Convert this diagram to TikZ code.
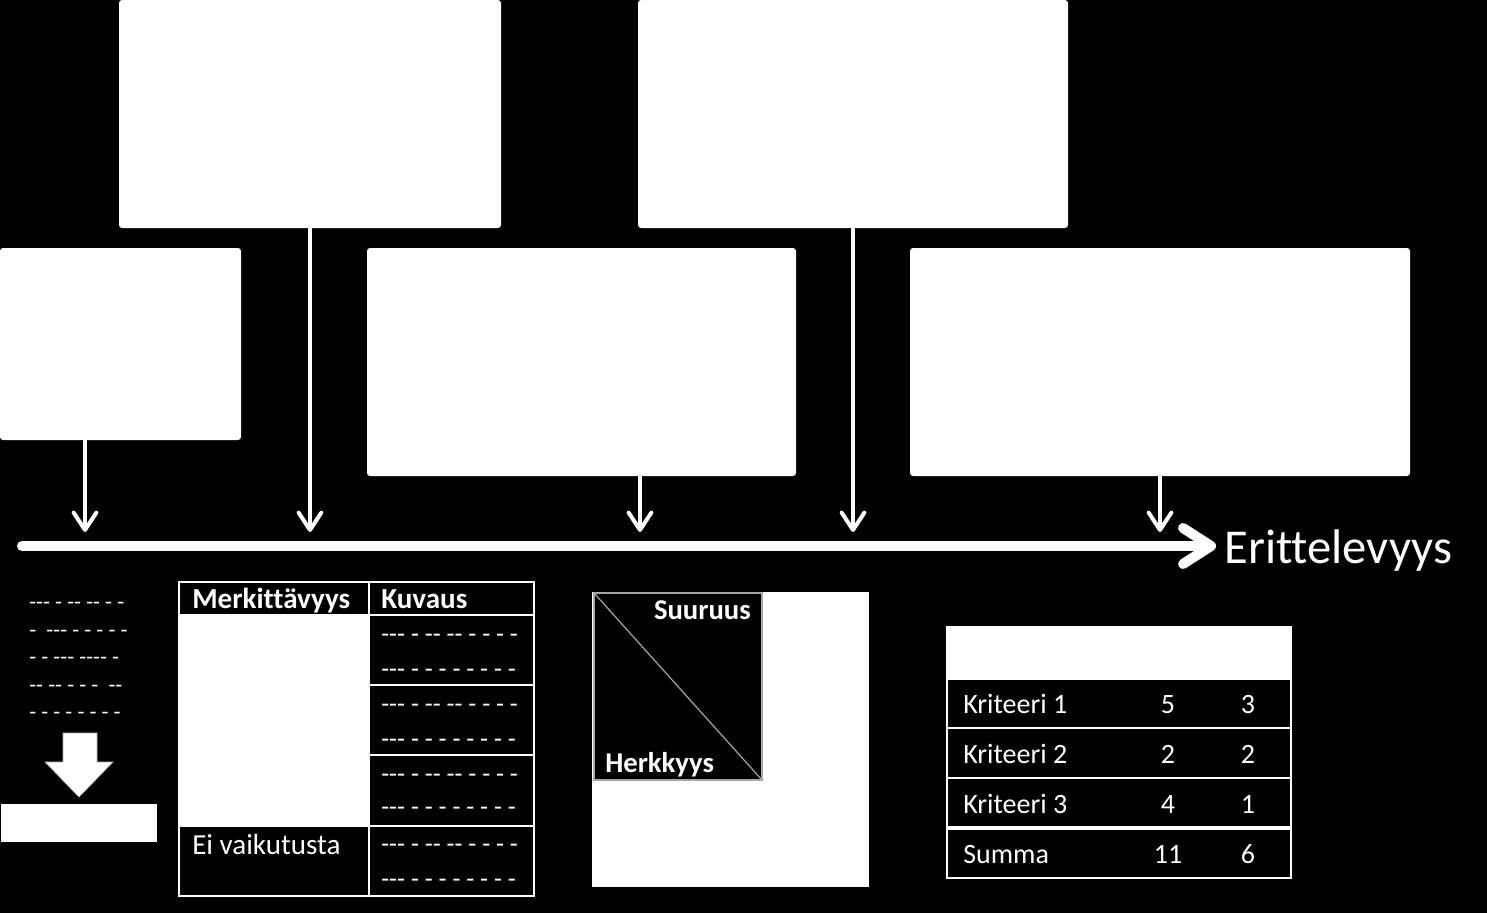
\documentclass[tikz,border=0pt]{standalone}
\usepackage{fontspec}
\setmainfont{Carlito}[Ligatures=NoCommon]
\usetikzlibrary{arrows.meta,fit}
\tikzset{
  box/.style={fill=white, rounded corners=2.25pt, inner sep=0pt, draw=none},
  conn/.style={white, line width=3pt, -{Straight Barb[length=13pt,width=17pt,line cap=round,line join=round]}},
  axisline/.style={white, line width=7.5pt, line cap=round, -{Straight Barb[length=21pt,width=27pt,line cap=round,line join=round]}},
  txt/.style={text=white, inner sep=0pt, anchor=base west},
  tbl/.style={draw=white, line width=1.5pt},
  fdash/.style={font=\fontsize{19.5}{24}\selectfont},
  f22/.style={font=\fontsize{21.8}{26}\selectfont},
  f22b/.style={font=\fontsize{21.8}{26}\selectfont\bfseries},
  f21/.style={font=\fontsize{21}{25}\selectfont},
  f21b/.style={font=\fontsize{21.5}{25}\selectfont\bfseries},
  f17/.style={font=\fontsize{17}{20}\selectfont},
  fbig/.style={font=\fontsize{36.5}{42}\selectfont},
}
\begin{document}
\begin{tikzpicture}[x=0.75pt,y=-0.75pt]
% background
\fill[black] (0,0) rectangle (1487,913);
\useasboundingbox (0,0) rectangle (1487,913);

% boxes
\node[box, fit={(119,0) (501,228)}] (A) {};
\node[box, fit={(638,0) (1068,228)}] (B) {};
\node[box, fit={(0,248) (241,440)}] (C) {};
\node[box, fit={(367,248) (796,476)}] (D) {};
\node[box, fit={(910,248) (1410,476)}] (E) {};

% axis
\coordinate (axs) at (22,546);
\coordinate (axe) at (1216,546);
\draw[axisline] (axs) -- (axe);
\node[txt, fbig] (lab) at (1224,563) {Erittelevyys};

% arrow tips on the axis
\coordinate (t1) at (85,532);
\coordinate (t2) at (310,532);
\coordinate (t3) at (640,532);
\coordinate (t4) at (853,532);
\coordinate (t5) at (1160,532);
\draw[conn] (C.south -| t1) -- (t1);
\draw[conn] (A.south -| t2) -- (t2);
\draw[conn] (D.south -| t3) -- (t3);
\draw[conn] (B.south -| t4) -- (t4);
\draw[conn] (E.south -| t5) -- (t5);

% left dash lines, block arrow, bar
\node[txt, f17] (l1) at (29,609) {-{}-{}- - -{}- -{}- - -};
\node[txt, f17] (l2) at (29,637) {-~\ -{}-{}- - - - - -};
\node[txt, f17] (l3) at (29,664) {- - -{}-{}- -{}-{}-{}- -};
\node[txt, f17] (l4) at (29,692) {-{}- -{}- - - -~\ -{}-};
\node[txt, f17] (l5) at (29,719) {- - - - - - - -};
\fill[white, draw=gray!60, line width=0.5pt] (63,733) -- (97,733) -- (97,762) -- (113,762) -- (79,797) -- (45,762) -- (63,762) -- cycle;
\fill[white] (1,804) rectangle (157,842);

% left table
\fill[white] (179,615) rectangle (369,826);
\draw[tbl] (179,582) rectangle (534,896);
\draw[tbl] (369,582) -- (369,896);
\draw[tbl] (179,615) -- (534,615);
\draw[tbl] (369,685) -- (534,685);
\draw[tbl] (369,755) -- (534,755);
\draw[tbl] (179,826) -- (534,826);
\node[txt, f22b] (h1) at (192,608) {Merkittävyys};
\node[txt, f22b] (h2) at (381,608) {Kuvaus};
\node[txt, f22] (ei) at (192,854) {Ei vaikutusta};
\foreach \y/\n in {642/a,712/b,782/c,852/d}
  \node[txt, fdash] (da\n) at (381,\y) {-{}-{}- - -{}- -{}- - - - -};
\foreach \y/\n in {677/a,747/b,815/c,887/d}
  \node[txt, fdash] (db\n) at (381,\y) {-{}-{}- - - - - - - - -};

% square
\fill[white] (592,592) rectangle (869,887);
\draw[fill=black, draw=gray!70, line width=1pt] (594,593) rectangle (762,780);
\draw[gray!70, line width=0.9pt] (594,593) -- (762,780);
\node[txt, f21b, anchor=base east] (su) at (751,619) {Suuruus};
\node[txt, f21b] (he) at (605,772) {Herkkyys};

% right table
\fill[white] (947,627) rectangle (1291,679);
\draw[tbl] (947,627) rectangle (1291,878);
\draw[tbl] (947,679) -- (1291,679);
\draw[tbl] (947,728) -- (1291,728);
\draw[tbl] (947,778) -- (1291,778);
\draw[draw=white, line width=2.5pt] (947,828) -- (1291,828);
\foreach \y/\a/\b/\c/\n in {713/Kriteeri 1/5/3/1, 763/Kriteeri 2/2/2/2, 813/Kriteeri 3/4/1/3, 863/Summa/11/6/4} {
  \node[txt, f21] (k\n) at (963,\y) {\a};
  \node[txt, f21, anchor=base] (m\n) at (1168,\y) {\b};
  \node[txt, f21, anchor=base] (n\n) at (1248,\y) {\c};
}
\end{tikzpicture}
\end{document}
